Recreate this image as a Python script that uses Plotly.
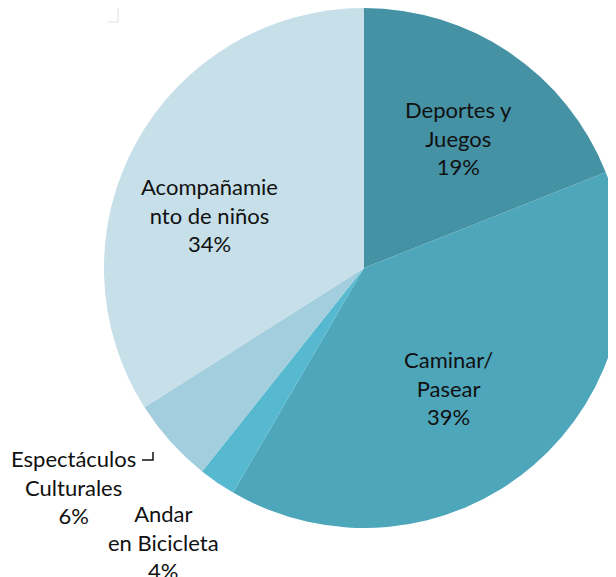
import plotly.graph_objs as go

categories = ['Deportes y<br>Juegos', 'Caminar/<br>Pasear', 'Andar<br>en Bicicleta',
              'Espectáculos<br>Culturales', 'Acompañamie<br>nto de niños']
values = [19, 39.4, 2.3, 5.3, 34]
pct_labels = ['19%', '39%', '4%', '6%', '34%']
colors = ['#4592A5', '#4EA6BB', '#56B9D0', '#A3CEDD', '#C6DFE8']

W, H = 616, 577
DX, DY = 8, 8   # body margin of the html page shifts everything by 8px


def px(x):
    return (x - DX) / W


def py(y):
    return 1 - (y - DY) / H


# where each label block sits (pixel centre in the final picture)
label_pos = [(459, 138), (448, 388), (163, 542), (73, 487), (209, 215)]

# pie: centre (364, 268), radius 260 in the picture, right side runs off the edge
pie = go.Pie(labels=categories,
             values=values,
             textinfo='none',
             marker=dict(colors=colors, line=dict(color='white', width=0)),
             sort=False,
             direction='clockwise',
             rotation=0,
             hoverinfo='label+percent',
             showlegend=False,
             domain=dict(x=[px(104), 1], y=[py(528), py(8)]))

fig = go.Figure([pie])

for lab, pct, (x, y) in zip(categories, pct_labels, label_pos):
    fig.add_annotation(x=px(x), y=py(y), xref='paper', yref='paper',
                       text=lab + '<br>' + pct, showarrow=False,
                       xanchor='center', yanchor='middle', align='center',
                       font=dict(family='Lato', size=22, color='#111111'))

# little leftover leader marks from the original slide
fig.add_shape(type='path', xref='paper', yref='paper',
              path='M %f %f L %f %f L %f %f' % (px(142), py(460), px(153), py(460), px(153), py(452)),
              line=dict(color='#111111', width=1.5))
fig.add_shape(type='path', xref='paper', yref='paper',
              path='M %f %f L %f %f L %f %f' % (px(108), py(22), px(118), py(22), px(118), py(8)),
              line=dict(color='#ececec', width=1.5))

fig.update_layout(width=W, height=H,
                  margin=dict(l=0, r=0, t=0, b=0),
                  paper_bgcolor='white')

fig.write_html("out.html")
